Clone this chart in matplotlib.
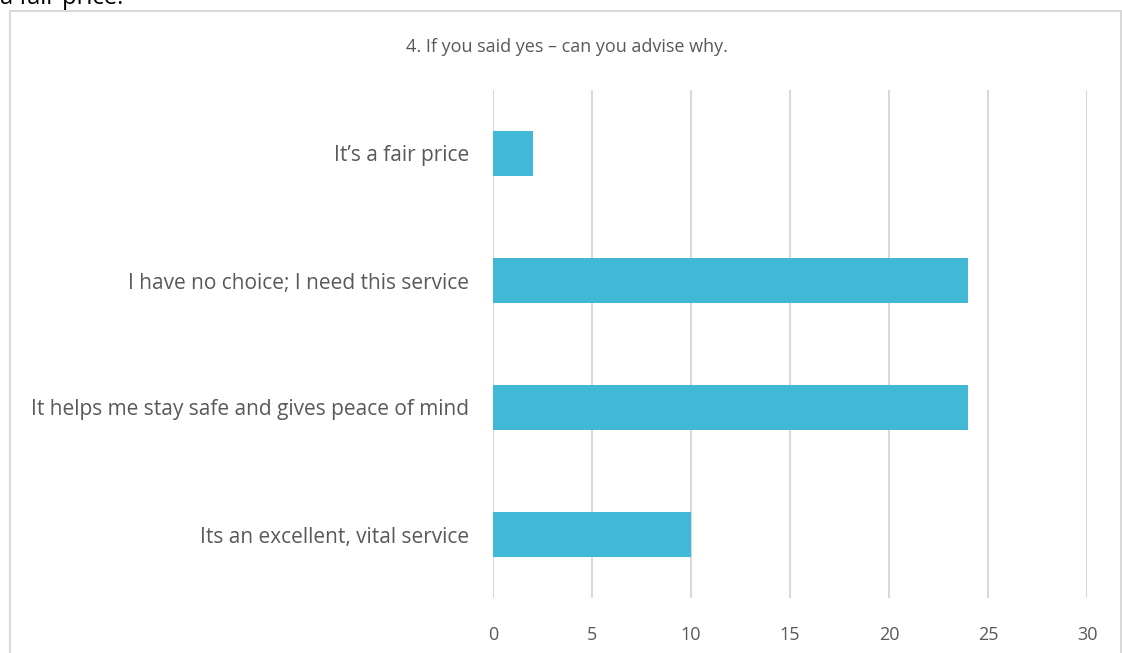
import matplotlib
matplotlib.use("Agg")
import matplotlib.pyplot as plt
from matplotlib.patches import Rectangle

categories = [
    "Its an excellent, vital service",
    "It helps me stay safe and gives peace of mind",
    "I have no choice; I need this service",
    "It\u2019s a fair price",
]
values = [10, 24, 24, 2]
xticks = [0, 5, 10, 15, 20, 25, 30]
title = "4. If you said yes \u2013 can you advise why."

W, H = 1122, 653
fig = plt.figure(figsize=(W / 100, H / 100), dpi=100)
plt.rcParams['font.family'] = ['Open Sans', 'DejaVu Sans']

# chart border (bottom edge lies below the visible picture)
fig.patches.append(Rectangle((9.5 / W, -0.05), (1120.5 - 9.5) / W, 1.05 - 11 / H, transform=fig.transFigure,
                             fill=False, edgecolor="#D9D9D9", linewidth=1.5))
# heading above the chart, cut by the top edge as in the source
fig.text(0 / W, 1 - 4 / H, "a fair price.", fontsize=17, color="black", va="baseline", ha="left")

ax = fig.add_axes([493 / W, 1 - 598 / H, (1087 - 493) / W, (598 - 90) / H])
y = list(range(len(categories)))
ax.barh(y, values, height=0.36, color="#41B8D5", zorder=3)
ax.set_xlim(0, 30)
ax.set_ylim(-0.5, len(categories) - 0.5)
ax.set_xticks(xticks)
ax.set_xticklabels([str(t) for t in xticks])
ax.set_yticks(y)
ax.set_yticklabels(categories)
ax.grid(axis="x", color="#D9D9D9", linewidth=1.5, zorder=0)
for s in ax.spines.values():
    s.set_visible(False)
ax.tick_params(axis="both", length=0, colors="#595959")
ax.tick_params(axis="y", labelsize=15, pad=17)
ax.tick_params(axis="x", labelsize=13, pad=20)
fig.text(567 / W, 1 - 47 / H, title, ha="center", va="center", fontsize=13, color="#595959")

fig.savefig("out.png", dpi=100)
